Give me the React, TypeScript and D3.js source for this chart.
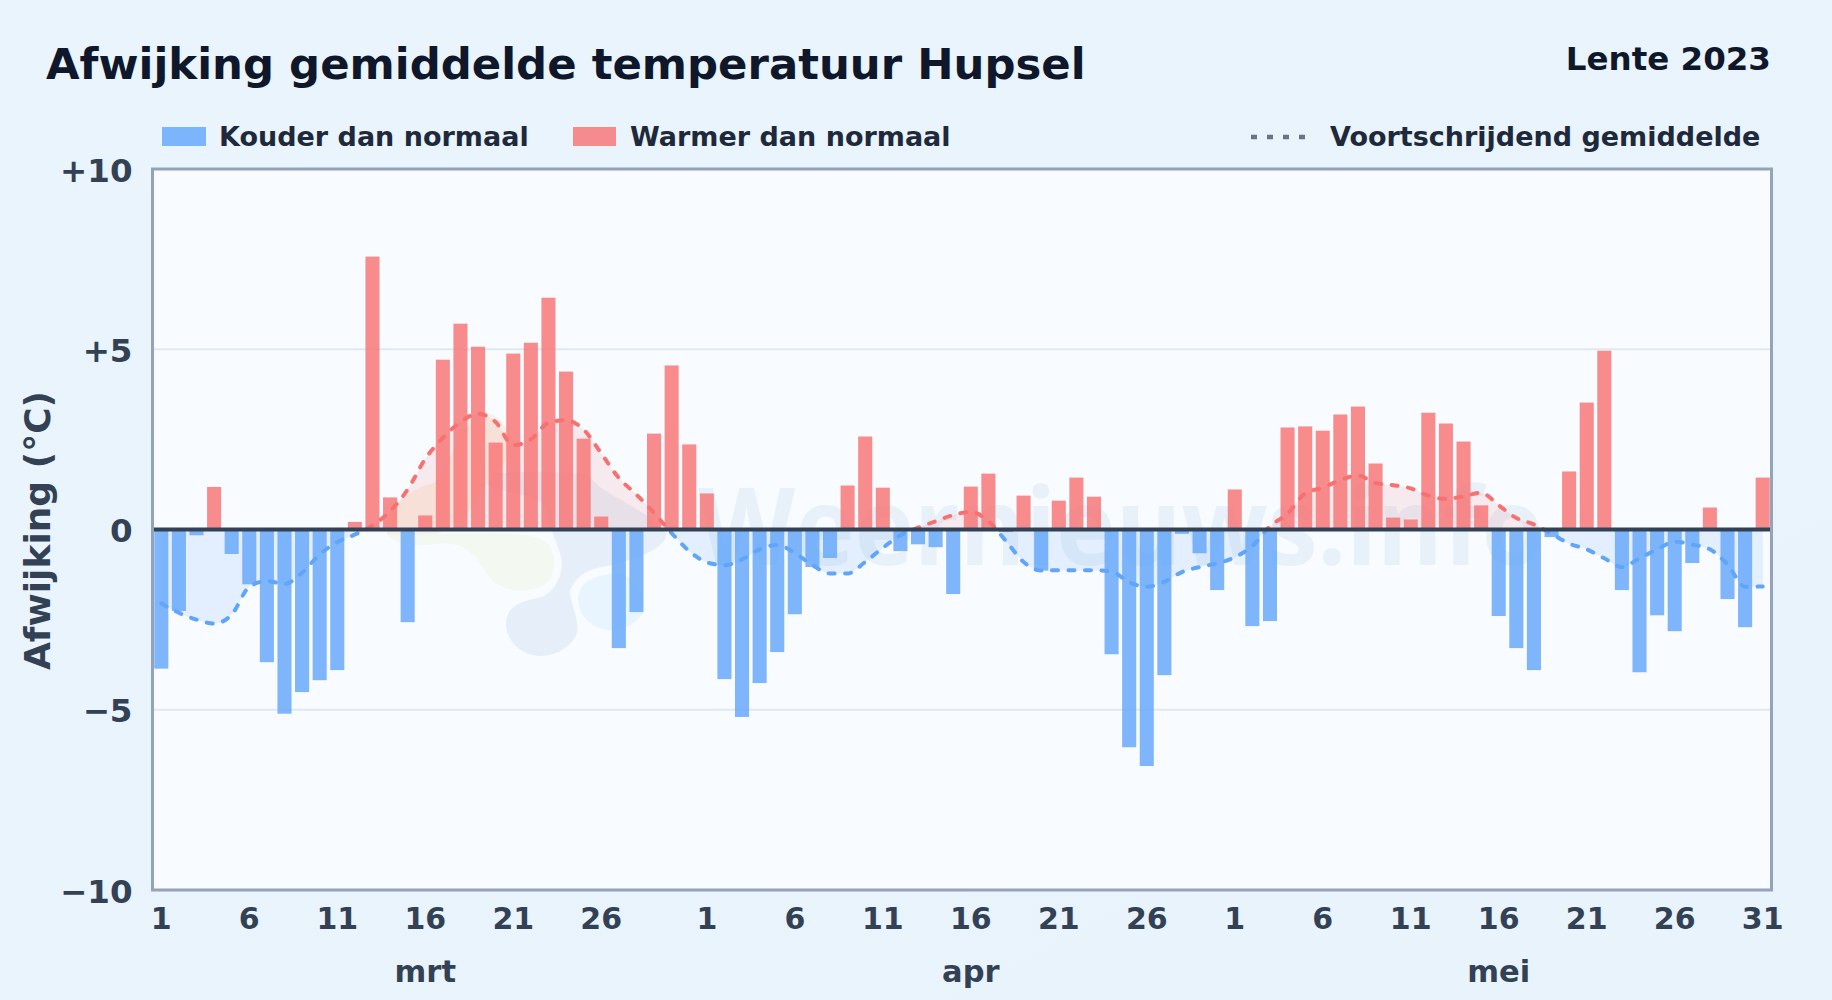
import { useEffect, useRef } from 'react';
import * as d3 from 'd3';

// daily deviation from normal (degrees C)
const deviationMrt = [
  -3.86, -2.26, -0.16, 1.18, -0.68, -1.52, -3.68, -5.11, -4.51, -4.18, -3.9, 0.21, 7.57, 0.89, -2.57, 0.39,
  4.71, 5.71, 5.07, 2.41, 4.88, 5.18, 6.43, 4.38, 2.52, 0.36, -3.29, -2.29, 2.66, 4.55, 2.36,
];
const deviationApr = [
  1.0, -4.15, -5.2, -4.26, -3.4, -2.35, -1.04, -0.79, 1.22, 2.58, 1.16, -0.6, -0.41, -0.49, -1.79, 1.19,
  1.55, -0.07, 0.94, -1.14, 0.8, 1.44, 0.91, -3.46, -6.04, -6.56, -4.04, -0.12, -0.66, -1.68,
];
const deviationMei = [
  1.11, -2.68, -2.54, 2.83, 2.86, 2.74, 3.19, 3.41, 1.83, 0.33, 0.28, 3.24, 2.94, 2.44, 0.67, -2.4,
  -3.29, -3.9, -0.21, 1.61, 3.52, 4.96, -1.68, -3.96, -2.38, -2.82, -0.93, 0.61, -1.93, -2.71, 1.44,
];

// moving average per day
const averageMrt = [
  -2.05, -2.31, -2.5, -2.61, -2.36, -1.59, -1.43, -1.51, -1.2, -0.69, -0.35, -0.14, 0.11, 0.51, 1.11, 1.96,
  2.54, 2.98, 3.21, 2.98, 2.34, 2.5, 2.96, 3.03, 2.77, 2.11, 1.43, 0.97, 0.46, -0.1, -0.6,
];
const averageApr = [
  -0.91, -0.99, -0.83, -0.55, -0.43, -0.65, -0.99, -1.22, -1.22, -0.9, -0.51, -0.16, 0.05, 0.23, 0.4, 0.49,
  0.23, -0.32, -0.9, -1.14, -1.13, -1.13, -1.13, -1.17, -1.46, -1.59, -1.45, -1.18, -1.04, -0.94,
];
const averageMei = [
  -0.77, -0.46, 0.09, 0.44, 1.0, 1.16, 1.37, 1.5, 1.29, 1.23, 1.14, 0.94, 0.85, 0.92, 1.02, 0.67,
  0.32, 0.14, -0.12, -0.39, -0.55, -0.8, -1.04, -0.8, -0.55, -0.34, -0.42, -0.55, -0.97, -1.59, -1.58,
];

const months = ['mrt', 'apr', 'mei'];
const monthLengths = [deviationMrt.length, deviationApr.length, deviationMei.length];
const yTicks = [-10, -5, 0, 5, 10];
const dayLabels = [1, 6, 11, 16, 21, 26];

const width = 1832;
const height = 1000;
const margin = { top: 169, right: 60.5, bottom: 110, left: 152.5 };
const font = '"DejaVu Sans", sans-serif';

type Day = { key: string; day: number; month: number; value: number; avg: number };

export default function App() {
  const svgRef = useRef<SVGSVGElement | null>(null);

  useEffect(() => {
    if (!svgRef.current) return;
    const svg = d3.select(svgRef.current);
    svg.selectAll('*').remove();

    const deviation = [...deviationMrt, ...deviationApr, ...deviationMei];
    const average = [...averageMrt, ...averageApr, ...averageMei];
    const data: Day[] = [];
    monthLengths.forEach((len, m) => {
      d3.range(len).forEach((i) => {
        const idx = data.length;
        data.push({ key: `${m}-${i + 1}`, day: i + 1, month: m, value: deviation[idx], avg: average[idx] });
      });
    });

    const x = d3
      .scaleBand<string>()
      .domain(data.map((d) => d.key))
      .range([margin.left, width - margin.right])
      .paddingInner(0.2)
      .paddingOuter(0.1);
    const y = d3
      .scaleLinear()
      .domain([-10, 10])
      .range([height - margin.bottom, margin.top]);
    const cx = (key: string) => (x(key) ?? 0) + x.bandwidth() / 2;

    const defs = svg.append('defs');
    const bg = defs
      .append('linearGradient')
      .attr('id', 'page-bg')
      .attr('x1', 0)
      .attr('y1', 0)
      .attr('x2', 1)
      .attr('y2', 1);
    bg.append('stop').attr('offset', '0%').attr('stop-color', '#eaf4fc');
    bg.append('stop').attr('offset', '100%').attr('stop-color', '#e8f3fc');
    defs
      .append('clipPath')
      .attr('id', 'above-zero')
      .append('rect')
      .attr('x', margin.left)
      .attr('y', margin.top)
      .attr('width', width - margin.left - margin.right)
      .attr('height', y(0) - margin.top);
    defs
      .append('clipPath')
      .attr('id', 'below-zero')
      .append('rect')
      .attr('x', margin.left)
      .attr('y', y(0))
      .attr('width', width - margin.left - margin.right)
      .attr('height', height - margin.bottom - y(0));

    svg.append('rect').attr('width', width).attr('height', height).attr('fill', 'url(#page-bg)');
    svg
      .append('rect')
      .attr('x', margin.left)
      .attr('y', margin.top)
      .attr('width', width - margin.left - margin.right)
      .attr('height', height - margin.top - margin.bottom)
      .attr('fill', '#f8fbff');

    // watermark logo and name behind the chart
    const logo = svg.append('g').attr('transform', 'translate(380,400) scale(0.3333)');
    logo
      .append('path')
      .attr('d', 'M378,670 C380,620 420,605 470,595 C520,585 550,530 545,480 C540,440 510,400 500,330 C470,260 330,300 300,225 C400,210 560,215 630,225 C650,280 780,310 860,400 C860,440 790,470 700,495 C640,505 600,510 570,570 C572,610 590,640 592,680 C600,720 540,768 485,768 C420,768 378,720 378,670 Z')
      .attr('fill', '#e6eff9');
    logo
      .append('path')
      .attr('d', 'M20,400 C30,310 100,260 160,250 C200,240 220,90 300,40 C360,30 390,100 400,130 C370,220 300,260 280,310 C260,360 200,395 120,420 C80,430 30,420 20,400 Z')
      .attr('fill', '#f7f0e6');
    logo
      .append('path')
      .attr('d', 'M20,405 C60,440 120,440 180,430 C260,425 290,470 320,520 C350,570 420,585 480,560 C530,540 530,480 510,440 C495,410 450,400 300,400 Z')
      .attr('fill', '#f3f8f1');
    logo
      .append('path')
      .attr('d', 'M595,590 C600,545 640,530 700,520 C760,520 790,560 790,640 C760,680 720,695 680,690 C630,680 590,640 595,590 Z')
      .attr('fill', '#e8f4fe');
    svg
      .append('text')
      .attr('x', 698)
      .attr('y', 565)
      .attr('font-family', '"Open Sans", sans-serif')
      .attr('font-weight', 700)
      .attr('font-size', 108)
      .attr('textLength', 846)
      .attr('lengthAdjust', 'spacingAndGlyphs')
      .attr('fill', '#e8f1fa')
      .text('Weernieuws.info');

    // grid
    svg
      .append('g')
      .selectAll('line')
      .data([-5, 5])
      .join('line')
      .attr('x1', margin.left)
      .attr('x2', width - margin.right)
      .attr('y1', (d) => y(d))
      .attr('y2', (d) => y(d))
      .attr('stroke', '#e2e8f0')
      .attr('stroke-width', 2);

    // moving average fill
    const area = d3
      .area<Day>()
      .x((d) => cx(d.key))
      .y0(y(0))
      .y1((d) => y(d.avg))
      .curve(d3.curveMonotoneX);
    const line = d3
      .line<Day>()
      .x((d) => cx(d.key))
      .y((d) => y(d.avg))
      .curve(d3.curveMonotoneX);

    svg
      .append('path')
      .datum(data)
      .attr('clip-path', 'url(#above-zero)')
      .attr('d', area)
      .attr('fill', '#f87171')
      .attr('fill-opacity', 0.12);
    svg
      .append('path')
      .datum(data)
      .attr('clip-path', 'url(#below-zero)')
      .attr('d', area)
      .attr('fill', '#60a5fa')
      .attr('fill-opacity', 0.14);

    // bars
    svg
      .append('g')
      .selectAll('rect')
      .data(data)
      .join('rect')
      .attr('x', (d) => x(d.key) ?? 0)
      .attr('y', (d) => y(Math.max(0, d.value)))
      .attr('width', x.bandwidth())
      .attr('height', (d) => Math.abs(y(d.value) - y(0)))
      .attr('fill', (d) => (d.value >= 0 ? '#f87171' : '#60a5fa'))
      .attr('fill-opacity', 0.8);

    // moving average line, red above zero and blue below
    [
      { clip: 'above-zero', color: '#f87171' },
      { clip: 'below-zero', color: '#60a5fa' },
    ].forEach(({ clip, color }) => {
      svg
        .append('g')
        .attr('clip-path', `url(#${clip})`)
        .append('path')
        .datum(data)
        .attr('d', line)
        .attr('fill', 'none')
        .attr('stroke', color)
        .attr('stroke-width', 4)
        .attr('stroke-dasharray', '6 10.5')
        .attr('stroke-linecap', 'round');
    });

    // zero line
    svg
      .append('line')
      .attr('x1', margin.left)
      .attr('x2', width - margin.right)
      .attr('y1', y(0))
      .attr('y2', y(0))
      .attr('stroke', '#334155')
      .attr('stroke-width', 4);

    // frame
    svg
      .append('rect')
      .attr('x', margin.left)
      .attr('y', margin.top)
      .attr('width', width - margin.left - margin.right)
      .attr('height', height - margin.top - margin.bottom)
      .attr('fill', 'none')
      .attr('stroke', '#94a3b8')
      .attr('stroke-width', 3);

    // y axis
    const yAxis = svg
      .append('g')
      .attr('transform', `translate(${margin.left},0)`)
      .call(
        d3
          .axisLeft(y)
          .tickValues(yTicks)
          .tickSize(0)
          .tickPadding(20)
          .tickFormat((v) => {
            const n = Number(v);
            return n > 0 ? `+${n}` : n < 0 ? `\u2212${-n}` : '0';
          })
      );
    yAxis.select('.domain').remove();
    yAxis
      .selectAll('.tick text')
      .attr('fill', '#334155')
      .attr('font-family', font)
      .attr('font-weight', 700)
      .attr('font-size', 32.5)
      .attr('dy', '0.37em');

    // x axis, day labels every five days plus the last day of spring
    const tickKeys = data
      .filter((d, i) => dayLabels.includes(d.day) || i === data.length - 1)
      .map((d) => d.key);
    const xAxis = svg
      .append('g')
      .attr('transform', `translate(0,${height - margin.bottom})`)
      .call(
        d3
          .axisBottom(x)
          .tickValues(tickKeys)
          .tickSize(0)
          .tickPadding(18)
          .tickFormat((k) => k.split('-')[1])
      );
    xAxis.select('.domain').remove();
    xAxis
      .selectAll('.tick text')
      .attr('fill', '#334155')
      .attr('font-family', font)
      .attr('font-weight', 700)
      .attr('font-size', 30);

    svg
      .append('g')
      .selectAll('text')
      .data(months)
      .join('text')
      .attr('x', (_, m) => cx(`${m}-16`))
      .attr('y', 982)
      .attr('text-anchor', 'middle')
      .attr('fill', '#334155')
      .attr('font-family', font)
      .attr('font-weight', 700)
      .attr('font-size', 30.5)
      .text((d) => d);

    svg
      .append('text')
      .attr('transform', 'translate(50,530.5) rotate(-90)')
      .attr('text-anchor', 'middle')
      .attr('fill', '#334155')
      .attr('font-family', font)
      .attr('font-weight', 700)
      .attr('font-size', 36)
      .text('Afwijking (°C)');

    // title
    svg
      .append('text')
      .attr('x', 46)
      .attr('y', 79)
      .attr('fill', '#0f172a')
      .attr('font-family', font)
      .attr('font-weight', 700)
      .attr('font-size', 43.4)
      .text('Afwijking gemiddelde temperatuur Hupsel');
    svg
      .append('text')
      .attr('x', 1771)
      .attr('y', 70)
      .attr('text-anchor', 'end')
      .attr('fill', '#0f172a')
      .attr('font-family', font)
      .attr('font-weight', 700)
      .attr('font-size', 32.5)
      .text('Lente 2023');

    // legend
    const legend = svg
      .append('g')
      .attr('font-family', font)
      .attr('font-weight', 700)
      .attr('font-size', 27)
      .attr('fill', '#1e293b');
    legend.append('rect').attr('x', 162).attr('y', 127).attr('width', 44).attr('height', 19).attr('fill', '#60a5fa').attr('fill-opacity', 0.8);
    legend.append('text').attr('x', 219).attr('y', 146).text('Kouder dan normaal');
    legend.append('rect').attr('x', 573).attr('y', 127).attr('width', 43).attr('height', 19).attr('fill', '#f87171').attr('fill-opacity', 0.8);
    legend.append('text').attr('x', 630).attr('y', 146).text('Warmer dan normaal');
    legend
      .append('line')
      .attr('x1', 1251)
      .attr('x2', 1309)
      .attr('y1', 137)
      .attr('y2', 137)
      .attr('stroke', '#64748b')
      .attr('stroke-width', 4.5)
      .attr('stroke-dasharray', '6 10');
    legend.append('text').attr('x', 1330).attr('y', 146).text('Voortschrijdend gemiddelde');
  }, []);

  return (
    <svg
      ref={svgRef}
      width={width}
      height={height}
      viewBox={`0 0 ${width} ${height}`}
      style={{ position: 'absolute', left: 0, top: 0 }}
      role="img"
      aria-label="Afwijking gemiddelde temperatuur Hupsel"
    />
  );
}
